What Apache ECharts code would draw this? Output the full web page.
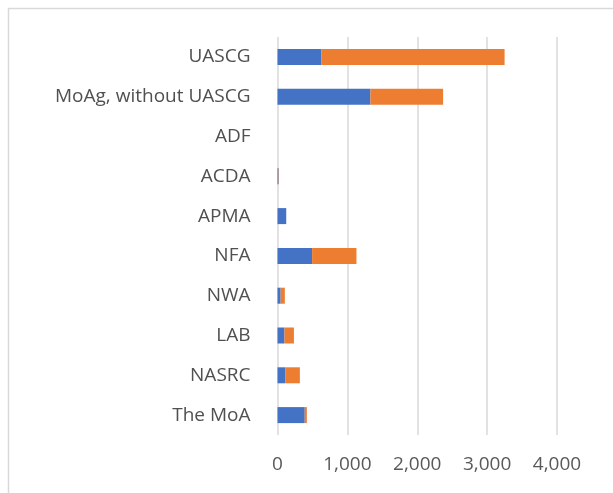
<!DOCTYPE html>
<html>
<head>
<meta charset="utf-8">
<script src="https://cdn.jsdelivr.net/npm/echarts@6/dist/echarts.min.js"></script>
<style>
  html, body { margin: 0; padding: 0; background: #fff; }
  #chart { width: 613px; height: 493px; }
</style>
</head>
<body>
<div id="chart"></div>
<script>
// Categories listed bottom-to-top (ECharts category y-axis starts at the bottom)
const categories = ['The MoA', 'NASRC', 'LAB', 'NWA', 'NFA', 'APMA', 'ACDA', 'ADF', 'MoAg, without UASCG', 'UASCG'];
const seriesA = [390, 115, 100, 45, 495, 125, 15, 0, 1330, 630];
const seriesB = [30, 205, 135, 60, 635, 0, 5, 0, 1040, 2620];
const xTicks = [0, 1000, 2000, 3000, 4000];

const chart = echarts.init(document.getElementById('chart'));
const font = '"Open Sans", Lato, sans-serif';

chart.setOption({
  animation: false,
  backgroundColor: '#ffffff',
  graphic: [{
    type: 'rect',
    shape: { x: 8.5, y: 8.5, width: 640, height: 520 },
    style: { fill: 'none', stroke: '#d9d9d9', lineWidth: 1.5 },
    silent: true
  }],
  grid: { left: 277.5, right: 56, top: 37, bottom: 58, containLabel: false },
  xAxis: {
    type: 'value',
    min: xTicks[0],
    max: xTicks[xTicks.length - 1],
    interval: 1000,
    axisLine: { show: false },
    axisTick: { show: false },
    splitLine: { lineStyle: { color: '#d9d9d9', width: 1.5 } },
    axisLabel: {
      color: '#595959',
      fontFamily: font,
      fontSize: 19,
      margin: 20,
      formatter: v => v.toLocaleString('en-US')
    }
  },
  yAxis: {
    type: 'category',
    data: categories,
    axisLine: { show: false },
    axisTick: { show: false },
    axisLabel: { color: '#505050', fontFamily: font, fontSize: 19, margin: 27 }
  },
  series: [
    {
      type: 'bar', stack: 'total', data: seriesA, barWidth: 16,
      itemStyle: { color: '#4472C4' }
    },
    {
      type: 'bar', stack: 'total', data: seriesB, barWidth: 16,
      itemStyle: { color: '#ED7D31' }
    }
  ]
});
</script>
</body>
</html>
